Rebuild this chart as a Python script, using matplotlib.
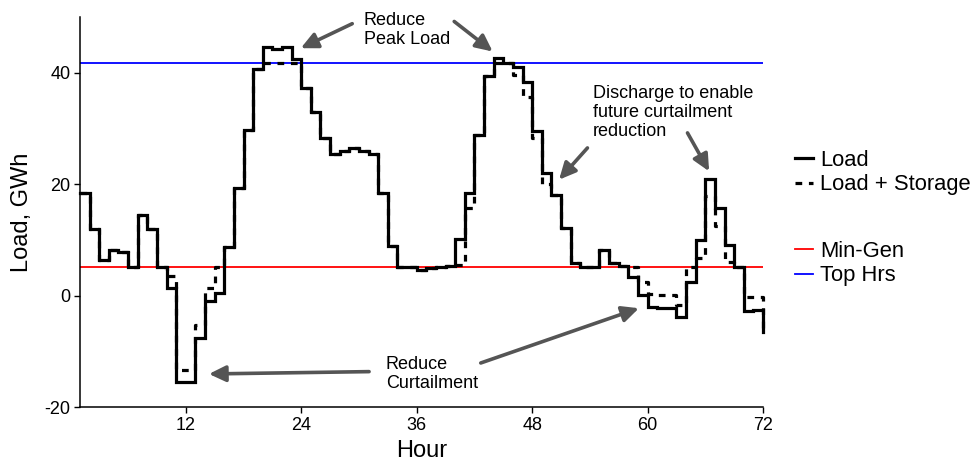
import numpy as np
import matplotlib
matplotlib.use("Agg")
import matplotlib.pyplot as plt

plt.rcParams['font.family'] = ['Liberation Sans', 'DejaVu Sans']
plt.rcParams['axes.unicode_minus'] = False

# Hourly system load over three days (GWh)
hours = np.arange(1, 73)
load = [
    18.5, 11.9, 6.4, 8.1, 7.85, 5.2, 14.55, 12.0, 5.2, 1.3,
    -15.5, -15.5, -7.7, -0.9, 0.5, 8.8, 19.3, 29.7, 40.7, 44.7,
    44.25, 44.7, 42.5, 37.3, 33.0, 28.3, 25.5, 25.9, 26.4, 26.0,
    25.4, 18.4, 8.9, 5.2, 5.2, 4.6, 4.9, 5.1, 5.3, 10.1,
    18.5, 28.9, 39.4, 42.6, 41.7, 41.0, 38.3, 29.5, 22.0, 18.0,
    12.2, 5.9, 5.2, 5.2, 8.2, 5.8, 5.3, 3.4, 0.1, -2.0,
    -2.3, -2.3, -3.8, 2.4, 9.9, 20.9, 15.7, 9.1, 5.2, -2.7,
    -2.6, -6.5,
]
# Net load after storage charge / discharge (GWh)
load_storage = [
    18.5, 11.9, 6.4, 8.1, 7.85, 5.2, 14.55, 12.0, 5.2, 3.5,
    -13.4, -13.4, -5.3, 1.4, 5.2, 8.8, 19.3, 29.7, 40.7, 41.7,
    41.7, 41.7, 41.7, 37.3, 33.0, 28.3, 25.5, 25.9, 26.4, 26.0,
    25.4, 18.4, 8.9, 5.2, 5.2, 4.6, 4.9, 5.1, 5.3, 5.5,
    15.7, 28.9, 39.4, 41.7, 41.7, 39.6, 35.7, 28.3, 20.0, 18.0,
    12.2, 5.9, 5.2, 5.2, 8.2, 5.8, 5.3, 5.2, 2.5, 0.3,
    0.1, 0.1, -1.7, 5.2, 6.7, 17.9, 12.5, 6.1, 5.2, -0.2,
    -0.2, -6.5,
]
min_gen = 5.2
top_hrs = 41.75

x_ticks = [12, 24, 36, 48, 60, 72]
y_ticks = [-20, 0, 20, 40]

fig = plt.figure(figsize=(9.74, 4.62), dpi=100)
ax = fig.add_axes([80 / 974, 1 - 407 / 462, 683 / 974, 390 / 462])

h_min = ax.axhline(min_gen, color='red', lw=1.3, zorder=2)
h_top = ax.axhline(top_hrs, color='blue', lw=1.3, zorder=2)

l_load, = ax.step(hours, load, where='post', color='black', lw=2.3,
                  zorder=3, clip_on=False, solid_joinstyle='miter')
l_stor, = ax.step(hours, load_storage, where='post', color='black', lw=2.3,
                  ls=(0, (2.1, 2.1)), zorder=3, clip_on=False)

ax.set_xlim(1, 72)
ax.set_ylim(-20, 50)
ax.set_xticks(x_ticks)
ax.set_yticks(y_ticks)
ax.tick_params(axis='both', labelsize=13, length=4, width=1.0, pad=3,
               colors='black')
for side in ('top', 'right'):
    ax.spines[side].set_visible(False)
for side in ('left', 'bottom'):
    ax.spines[side].set_linewidth(1.1)

ax.set_xlabel('Hour', fontsize=17)
ax.set_ylabel('Load, GWh', fontsize=17)
ax.yaxis.set_label_coords(-(80 - 33) / 683, 0.5)
ax.xaxis.set_label_coords(0.5, -(440 - 407) / 390)

# Annotations
arrow_kw = dict(arrowstyle='-|>,head_length=1.0,head_width=0.48',
                color='#555555', lw=2.6, shrinkA=0, shrinkB=0)

ax.text(30.5, 47.7, 'Reduce\nPeak Load', fontsize=13, ha='left',
        va='center', linespacing=1.15)
ax.annotate('', xy=(23.95, 44.4), xytext=(29.3, 48.8), arrowprops=arrow_kw,
            annotation_clip=False)
ax.annotate('', xy=(43.9, 43.8), xytext=(39.9, 49.2), arrowprops=arrow_kw,
            annotation_clip=False)

ax.text(54.3, 32.8, 'Discharge to enable\nfuture curtailment\nreduction',
        fontsize=13, ha='left', va='center', linespacing=1.15)
ax.annotate('', xy=(50.8, 20.8), xytext=(53.75, 26.5), arrowprops=arrow_kw)
ax.annotate('', xy=(66.4, 22.3), xytext=(64.15, 29.2), arrowprops=arrow_kw)

ax.text(32.8, -14.1, 'Reduce\nCurtailment', fontsize=13, ha='left',
        va='center', linespacing=1.15)
ax.annotate('', xy=(14.4, -14.07), xytext=(31.05, -13.65), arrowprops=arrow_kw)
ax.annotate('', xy=(59.1, -2.27), xytext=(42.66, -12.1), arrowprops=arrow_kw)

# Legends
leg_kw = dict(frameon=False, fontsize=15.8, handlelength=0.82,
              handletextpad=0.32, labelspacing=0.15, borderpad=0,
              borderaxespad=0, loc='upper left',
              bbox_transform=fig.transFigure)
leg1 = fig.legend([l_load, l_stor], ['Load', 'Load + Storage'],
                  bbox_to_anchor=(795 / 974, 1 - 150 / 462), **leg_kw)
leg2 = fig.legend([h_min, h_top], ['Min-Gen', 'Top Hrs'],
                  bbox_to_anchor=(795 / 974, 1 - 241 / 462), **leg_kw)

fig.savefig('out.png', dpi=100)
